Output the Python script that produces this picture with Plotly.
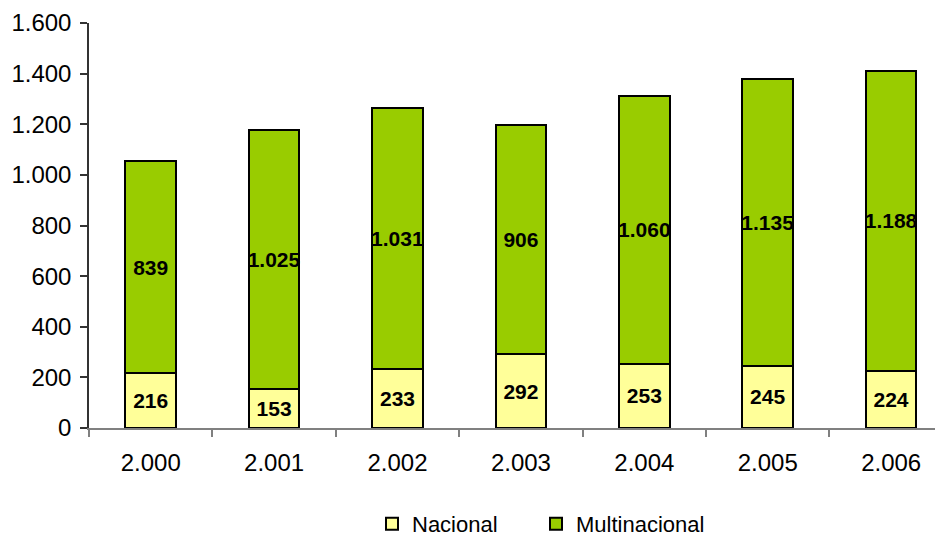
import plotly.graph_objects as go

years = ["2.000", "2.001", "2.002", "2.003", "2.004", "2.005", "2.006"]
nacional = [216, 153, 233, 292, 253, 245, 224]
multinacional = [839, 1025, 1031, 906, 1060, 1135, 1188]
y_ticks = [0, 200, 400, 600, 800, 1000, 1200, 1400, 1600]

FONT = "Liberation Sans, Arial, sans-serif"
PLOT_W = 854
ML = 81

fig = go.Figure()
fig.add_trace(go.Bar(
    name="Nacional", x=years, y=nacional, legend="legend",
    marker=dict(color="#FFFF99", line=dict(color="black", width=2)),
    texttemplate="%{y:,}", textposition="inside", insidetextanchor="middle",
    textangle=0, constraintext="none",
    textfont=dict(family=FONT, size=21, color="black", weight="bold"),
    width=0.41,
))
fig.add_trace(go.Bar(
    name="Multinacional", x=years, y=multinacional, legend="legend2",
    marker=dict(color="#99CC00", line=dict(color="black", width=2)),
    texttemplate="%{y:,}", textposition="inside", insidetextanchor="middle",
    textangle=0, constraintext="none",
    textfont=dict(family=FONT, size=21, color="black", weight="bold"),
    width=0.41,
))

leg_common = dict(orientation="h", xanchor="left", y=-0.237, yanchor="middle",
                  font=dict(size=22), bgcolor="rgba(0,0,0,0)")

fig.update_layout(
    barmode="stack",
    width=935, height=528,
    margin=dict(l=ML, r=0, t=15, b=108, pad=0, autoexpand=False),
    paper_bgcolor="white", plot_bgcolor="white",
    separators=",.",
    font=dict(family=FONT, size=22, color="black"),
    showlegend=True,
    legend=dict(x=(364 - ML) / PLOT_W, **leg_common),
    legend2=dict(x=(528 - ML) / PLOT_W, **leg_common),
    xaxis=dict(
        type="category", range=[-0.5, 6.42], automargin=False,
        showline=True, linecolor="#808080", linewidth=2,
        ticks="outside", tickson="boundaries", ticklen=7, tickcolor="#808080",
        tickwidth=1.5, showgrid=False, ticklabelstandoff=12,
        tickfont=dict(size=24),
    ),
    yaxis=dict(
        range=[0, 1600], tickvals=y_ticks, tickformat=",d", automargin=False,
        showline=True, linecolor="#333333", linewidth=1.5,
        ticks="outside", ticklen=7, tickcolor="#333333", tickwidth=1.5,
        showgrid=False, zeroline=False, ticklabelstandoff=4,
        tickfont=dict(size=24),
    ),
    bargap=0.59,
)

fig.write_html("out.html")
